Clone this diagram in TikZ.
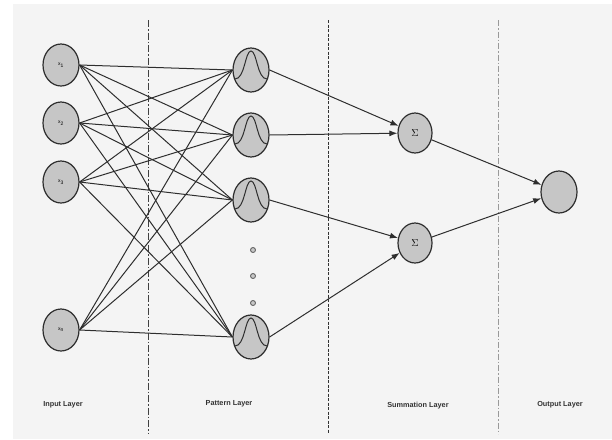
\documentclass[tikz,border=0pt]{standalone}
\usepackage{fontspec}
\setmainfont{Liberation Sans}
\usetikzlibrary{arrows.meta,shapes.geometric}
\definecolor{bg}{HTML}{F4F4F4}
\definecolor{nodefill}{HTML}{C6C6C6}
\definecolor{edge}{HTML}{2E2E2E}
\tikzset{
  neuron/.style={ellipse, draw=edge, line width=1.2pt, fill=nodefill,
    minimum width=36pt, minimum height=42pt, inner sep=0pt},
  pnode/.style={neuron, minimum height=44pt},
  snode/.style={neuron, minimum width=34pt, minimum height=40pt},
  link/.style={draw=edge, line width=1pt},
  arrowlink/.style={link, -{Latex[length=8pt,width=6pt]}},
  layername/.style={font=\bfseries\fontsize{7.3}{8}\selectfont, text=black!80},
  sep/.style={line width=0.9pt},
  bell/.style={draw=edge, line width=1pt},
  gap/.style={circle, draw=black!60, fill=black!22, line width=0.9pt, inner sep=0pt, minimum size=5pt}
}
\begin{document}
\begin{tikzpicture}[x=1pt,y=-1pt]
  \useasboundingbox (0,0) rectangle (612,439);
  \fill[white] (0,0) rectangle (612,439);
  \fill[bg] (13,4) rectangle (612,439);

  % layer separators
  \draw[sep, black!75, dash pattern=on 7pt off 2pt on 1.5pt off 2pt] (148,20) -- (148,434);
  \draw[sep, black!80, dash pattern=on 3pt off 1.5pt] (328,20) -- (328,434);
  \draw[sep, black!40, dash pattern=on 6pt off 2pt on 1.5pt off 2pt] (498,20) -- (498,434);

  % input layer
  \node[neuron] (x1) at (61,65) {\tiny x\textsubscript{1}};
  \node[neuron] (x2) at (61,123) {\tiny x\textsubscript{2}};
  \node[neuron] (x3) at (61,182) {\tiny x\textsubscript{3}};
  \node[neuron] (xn) at (61,330) {\tiny x\textsubscript{n}};

  % pattern layer
  \node[pnode] (p1) at (251,70) {};
  \node[pnode] (p2) at (251,135) {};
  \node[pnode] (p3) at (251,200) {};
  \node[pnode] (pn) at (251,337) {};
  \foreach \p in {p1,p2,p3,pn}{
    \draw[bell] ([xshift=-16pt,yshift=-9pt]\p.center)
      .. controls ([xshift=-6pt,yshift=-9pt]\p.center) and ([xshift=-6pt,yshift=19pt]\p.center) .. ([yshift=19pt]\p.center)
      .. controls ([xshift=6pt,yshift=19pt]\p.center) and ([xshift=6pt,yshift=-9pt]\p.center) .. ([xshift=16pt,yshift=-9pt]\p.center);
  }
  \node[gap] (d1) at (253,250) {};
  \node[gap] (d2) at (253,276) {};
  \node[gap] (d3) at (253,303) {};

  % summation layer
  \node[snode] (s1) at (415,133) {$\Sigma$};
  \node[snode] (s2) at (415,243) {$\Sigma$};

  % output layer
  \node[neuron] (o) at (559,192) {};

  % input -> pattern
  \foreach \i in {x1,x2,x3,xn}{
    \foreach \p in {p1,p2,p3,pn}{
      \draw[link] (\i.east) -- (\p.west);
    }
  }

  % pattern -> summation
  \draw[arrowlink] (p1.east) -- (s1);
  \draw[arrowlink] (p2.east) -- (s1);
  \draw[arrowlink] (p3.east) -- (s2);
  \draw[arrowlink] (pn.east) -- (s2);

  % summation -> output
  \draw[arrowlink] (s1) -- (o);
  \draw[arrowlink] (s2) -- (o);

  % layer captions
  \node[layername] (l1) at (63,405) {Input Layer};
  \node[layername] (l2) at (229,404) {Pattern Layer};
  \node[layername] (l3) at (418,406) {Summation Layer};
  \node[layername] (l4) at (560,405) {Output Layer};
\end{tikzpicture}
\end{document}
